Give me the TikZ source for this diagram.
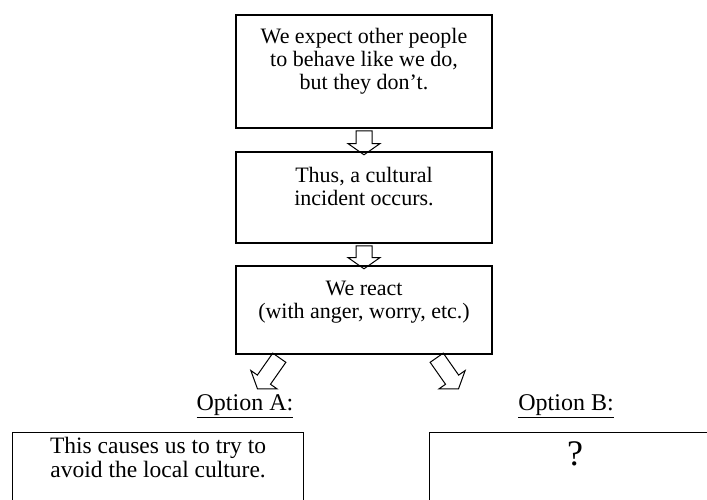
\documentclass[tikz,border=0pt]{standalone}
\usepackage{fontspec}
\setmainfont{Liberation Serif}
\usetikzlibrary{shapes.arrows,calc}

\begin{document}
\begin{tikzpicture}[x=1pt, y=1pt,
	box/.style={draw, line width=1.2pt, minimum width=256pt},
	words/.style={align=center, font=\fontsize{22}{23}\selectfont},
	option/.style={font=\fontsize{24}{28}\selectfont},
	hollow/.style={draw, line width=1pt, single arrow, single arrow head extend=8pt,
		single arrow tip angle=110, inner xsep=0pt, inner ysep=7.5pt}]
	\useasboundingbox (0,0) rectangle (707,-500);
	\clip (0,0) rectangle (707,-500);

	\node[box, minimum height=113pt, label={[words, anchor=north, yshift=-10pt]north:{We expect other people\\to behave like we do,\\but they don’t.}}] (expect) at (364,-71.5) {};
	\node[box, minimum height=91pt, label={[words, anchor=north, yshift=-12pt]north:{Thus, a cultural\\incident occurs.}}] (incident) at (364,-197.5) {};
	\node[box, minimum height=88pt, label={[words, anchor=north, yshift=-12pt]north:{We react\\(with anger, worry, etc.)}}] (react) at (364,-310) {};

	\node[hollow, rotate=-90, minimum height=24pt] (down1) at ($(expect.south)!0.5!(incident.north)$) {};
	\node[hollow, rotate=-90, minimum height=23pt] (down2) at ($(incident.south)!0.5!(react.north)$) {};

	\node[hollow, rotate=-125, minimum height=38pt] (toA) at (270,-371) {};
	\node[hollow, rotate=-55, minimum height=38pt] (toB) at (446,-371) {};

	\node[option] (optA) at (245,-406) {\underline{Option A:}};
	\node[option] (optB) at (566,-406) {\underline{Option B:}};

	\node[box, minimum width=291pt, minimum height=120pt, anchor=north west, label={[words, font=\fontsize{23.5}{24}\selectfont, anchor=north, yshift=-2pt]north:{This causes us to try to\\avoid the local culture.}}] (avoid) at (12,-432) {};
	\node[box, minimum width=291pt, minimum height=120pt, anchor=north west, label={[font=\fontsize{36}{40}\selectfont, anchor=north, yshift=-6pt]north:{?}}] (unknown) at (429,-432) {};
\end{tikzpicture}
\end{document}
